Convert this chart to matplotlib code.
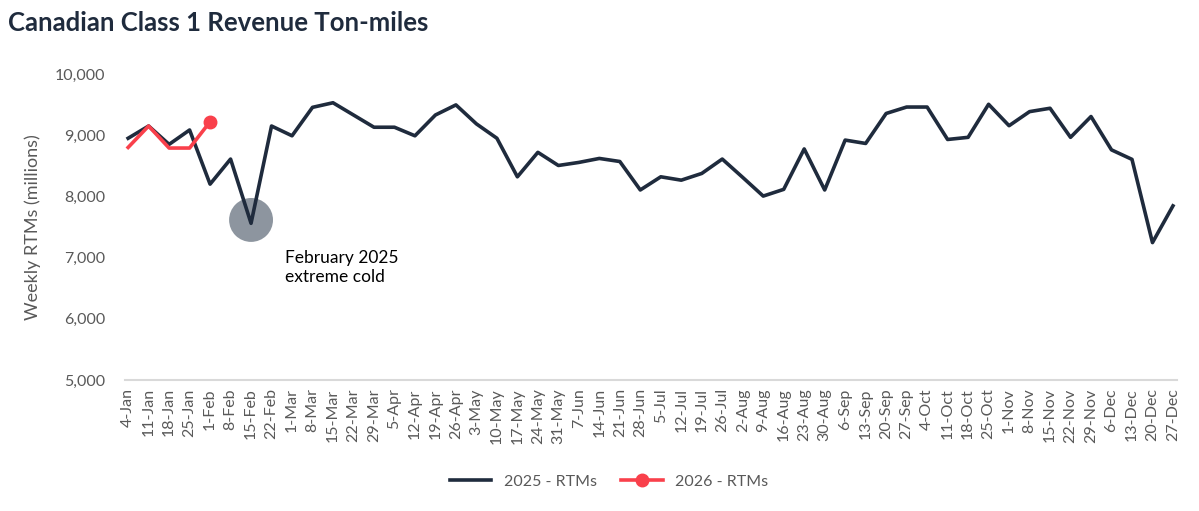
import numpy as np
import matplotlib.pyplot as plt

weeks = ['4-Jan', '11-Jan', '18-Jan', '25-Jan', '1-Feb', '8-Feb', '15-Feb', '22-Feb',
         '1-Mar', '8-Mar', '15-Mar', '22-Mar', '29-Mar', '5-Apr', '12-Apr', '19-Apr',
         '26-Apr', '3-May', '10-May', '17-May', '24-May', '31-May', '7-Jun', '14-Jun',
         '21-Jun', '28-Jun', '5-Jul', '12-Jul', '19-Jul', '26-Jul', '2-Aug', '9-Aug',
         '16-Aug', '23-Aug', '30-Aug', '6-Sep', '13-Sep', '20-Sep', '27-Sep', '4-Oct',
         '11-Oct', '18-Oct', '25-Oct', '1-Nov', '8-Nov', '15-Nov', '22-Nov', '29-Nov',
         '6-Dec', '13-Dec', '20-Dec', '27-Dec']

rtm_2025 = [8950, 9150, 8850, 9085, 8200, 8610, 7560, 9150,
            8990, 9455, 9530, 9330, 9130, 9130, 8990, 9330,
            9495, 9185, 8950, 8320, 8720, 8505, 8555, 8620,
            8570, 8105, 8320, 8265, 8375, 8610, 8310, 8005,
            8115, 8775, 8105, 8920, 8865, 9355, 9460, 9460,
            8930, 8965, 9505, 9155, 9385, 9440, 8965, 9305,
            8760, 8605, 7245, 7845]

rtm_2026 = [8800, 9150, 8790, 8790, 9220]

# annotation: cold snap in Feb 2025
note_week = 6
note_value = 7615
note_text = 'February 2025\nextreme cold'

navy = '#1f2b3d'
red = '#f9404b'
grey_txt = '#595959'

plt.rcParams['font.family'] = ['Lato', 'DejaVu Sans']

fig = plt.figure(figsize=(11.99, 5.11), dpi=100)
ax = fig.add_axes([0.1043, 0.2564, 0.8774, 0.5988])

x = np.arange(len(weeks))
ax.plot(x, rtm_2025, color=navy, lw=2.6, label='2025 - RTMs', zorder=3)
x26 = np.arange(len(rtm_2026))
ax.plot(x26, rtm_2026, color=red, lw=2.6, marker='o', markersize=9,
        markevery=[len(rtm_2026) - 1], label='2026 - RTMs', zorder=4)

ax.scatter([note_week], [note_value], s=1000, color='#5d6977', alpha=0.7,
           edgecolors='none', zorder=2)
ax.text(note_week + 1.65, 7120, note_text, fontsize=12.5, color='black',
        va='top', ha='left', linespacing=1.2)

ax.set_xlim(-0.15, 51.2)
ax.set_ylim(5000, 10000)
ax.set_yticks([5000, 6000, 7000, 8000, 9000, 10000])
ax.set_yticklabels(['{:,}'.format(v) for v in [5000, 6000, 7000, 8000, 9000, 10000]])
ax.set_xticks(x)
ax.set_xticklabels(weeks, rotation=90)
ax.tick_params(axis='both', length=0, colors=grey_txt, labelsize=11.5)
ax.tick_params(axis='x', pad=6)
ax.tick_params(axis='y', pad=14)

for s in ['top', 'right', 'left']:
    ax.spines[s].set_visible(False)
ax.spines['bottom'].set_color('#d9d9d9')
ax.spines['bottom'].set_linewidth(1.5)

ax.set_ylabel('Weekly RTMs (millions)', fontsize=13, color=grey_txt, labelpad=10)

fig.text(0.007, 0.955, 'Canadian Class 1 Revenue Ton-miles', fontsize=18.5,
         fontweight='bold', color=navy, va='center', ha='left')

fig.legend(loc='center', bbox_to_anchor=(0.508, 0.057), ncol=2, frameon=False,
           fontsize=11.5, labelcolor=grey_txt, handlelength=2.6, columnspacing=1.5)

fig.savefig('out.png', dpi=100)
